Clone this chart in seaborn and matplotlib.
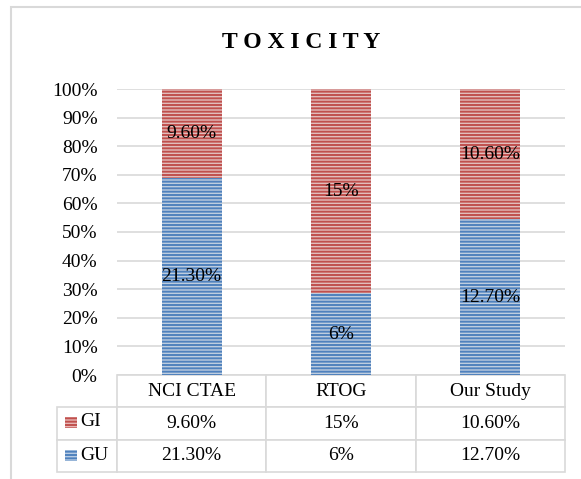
import pandas as pd
import numpy as np
import matplotlib
matplotlib.use('Agg')
import matplotlib.pyplot as plt
import seaborn as sns
from matplotlib.patches import Rectangle

sns.set_style('white')
plt.rcParams['font.family'] = ['Liberation Serif', 'DejaVu Serif']
plt.rcParams['hatch.linewidth'] = 1.4
plt.rcParams['text.color'] = 'black'
plt.rcParams['ytick.color'] = 'black'

## Data
studies = ['NCI CTAE', 'RTOG', 'Our Study']
gu = [21.3, 6, 12.7]
gi = [9.6, 15, 10.6]
gu_labels = ['21.30%', '6%', '12.70%']
gi_labels = ['9.60%', '15%', '10.60%']

df = pd.DataFrame({'study': studies, 'GU': gu, 'GI': gi})
df['total'] = df['GU'] + df['GI']
df['GU_pct'] = df['GU'] / df['total'] * 100
df['GI_pct'] = df['GI'] / df['total'] * 100

red_dark, red_light = '#c0504d', '#e8b7b6'
blue_dark, blue_light = '#4f81bd', '#b8cce4'
grid_col = '#d9d9d9'

W, H = 581, 479
fig = plt.figure(figsize=(W / 100, H / 100), dpi=100)
ax = fig.add_axes([117 / W, 1 - 375 / H, 448 / W, 286 / H])

# stacked 100% bars
sns.barplot(data=df, x='study', y='GU_pct', ax=ax, width=0.4, color=blue_light)
n = len(ax.patches)
sns.barplot(data=df, x='study', y='GI_pct', ax=ax, width=0.4, color=red_light,
            bottom=df['GU_pct'].values)
for i, p in enumerate(ax.patches):
    p.set_hatch('-----')
    p.set_edgecolor(blue_dark if i < n else red_dark)
    p.set_linewidth(0)
    p.set_zorder(3)

# data labels in segment centres
for i in range(len(df)):
    ax.text(i, df['GU_pct'][i] / 2, gu_labels[i], ha='center', va='center',
            fontsize=14, color='black', zorder=5)
    ax.text(i, df['GU_pct'][i] + df['GI_pct'][i] / 2, gi_labels[i],
            ha='center', va='center', fontsize=14, color='black', zorder=5)

ax.set_ylim(0, 100)
ax.set_xlim(-0.5, 2.5)
ax.set_yticks(np.arange(0, 101, 10))
ax.set_yticklabels([f'{v}%' for v in range(0, 101, 10)], fontsize=14, color='black')
ax.tick_params(axis='y', length=0, pad=14)
ax.set_xticks([])
ax.set_xlabel('')
ax.set_ylabel('')
ax.grid(axis='y', color=grid_col, linewidth=1.2, zorder=0)
ax.set_axisbelow(True)
for s in ax.spines.values():
    s.set_visible(False)

# data table under the bars
cell_text = [[''] + studies, [''] + gi_labels, [''] + gu_labels]
tbl = ax.table(cellText=cell_text, colWidths=[60 / 448] + [1 / 3] * 3,
               cellLoc='center', bbox=[-60 / 448, -97 / 286, 508 / 448, 97 / 286])
tbl.auto_set_font_size(False)
tbl.set_fontsize(14)
for (r, c), cell in tbl.get_celld().items():
    cell.set_edgecolor(grid_col)
    cell.set_linewidth(1.2)
    cell.get_text().set_color('black')
    if r == 0 and c == 0:
        cell.set_visible(False)

# legend keys in the row labels
row_y = [-(405 + 439) / 2 + 375, -(439 + 472) / 2 + 375]
for (name, face, edge), yc in zip([('GI', red_light, red_dark), ('GU', blue_light, blue_dark)], row_y):
    ycen = yc / 286
    ax.add_patch(Rectangle(((65 - 117) / 448, ycen - 5.5 / 286), 12 / 448, 11 / 286,
                           transform=ax.transAxes, facecolor=face, edgecolor=edge,
                           hatch='-----', linewidth=0, clip_on=False, zorder=6))
    ax.text((80 - 117) / 448, ycen, name, transform=ax.transAxes, ha='left',
            va='center', fontsize=14, color='black', zorder=6)

# title
fig.text(301 / W, 1 - 42 / H, 'T O X I C I T Y', ha='center', va='center',
         fontsize=17, fontweight='bold', color='black')

# chart area border
fig.patches.append(Rectangle((11 / W, -0.1), 1.2, 1 - 7 / H + 0.1, transform=fig.transFigure,
                             fill=False, edgecolor=grid_col, linewidth=1.5))

fig.savefig('out.png', dpi=100)
